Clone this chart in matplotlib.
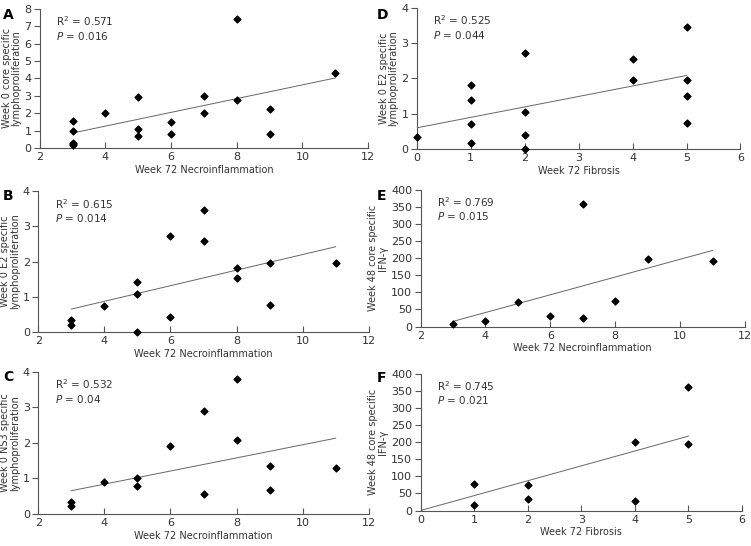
import numpy as np
import matplotlib
matplotlib.use("Agg")
import matplotlib.pyplot as plt

plt.rcParams['font.family'] = ['DejaVu Sans']

# x values (histology scores) and y values (immune responses) per panel
a_x = [3, 3, 3, 3, 3, 4, 5, 5, 5, 6, 6, 7, 7, 8, 8, 9, 9, 11]
a_y = [1.57, 0.98, 0.3, 0.22, 0.15, 1.99, 2.95, 1.07, 0.66, 1.47, 0.83, 2.99, 1.99, 7.41, 2.77, 2.22, 0.83, 4.29]
a_fit = [0.86, 4.02]

b_x = [3, 3, 4, 5, 5, 5, 6, 6, 7, 7, 8, 8, 9, 9, 11]
b_y = [0.35, 0.19, 0.74, 1.43, 1.08, 0.0, 2.73, 0.42, 3.46, 2.57, 1.82, 1.52, 1.95, 0.76, 1.95]
b_fit = [0.65, 2.42]

c_x = [3, 3, 4, 5, 5, 6, 7, 7, 8, 8, 9, 9, 11]
c_y = [0.33, 0.21, 0.89, 1.0, 0.79, 1.92, 2.91, 0.57, 3.80, 2.09, 1.34, 0.67, 1.29]
c_fit = [0.65, 2.13]

d_x = [0, 1, 1, 1, 1, 2, 2, 2, 2, 4, 4, 5, 5, 5, 5]
d_y = [0.33, 1.80, 1.40, 0.71, 0.16, 2.71, 1.05, 0.39, 0.0, 2.55, 1.94, 3.45, 1.94, 1.49, 0.74]
d_fit = [0.60, 2.08]

e_x = [3, 4, 5, 6, 7, 7, 8, 9, 11]
e_y = [6, 15, 71, 32, 359, 26, 74, 197, 192]
e_fit = [15, 223]

f_x = [1, 1, 2, 2, 4, 4, 5, 5]
f_y = [77, 17, 74, 35, 201, 28, 362, 195]
f_fit = [0, 218]

necro = "Week 72 Necroinflammation"
fib = "Week 72 Fibrosis"

panels = [
    # letter, x, y, fit, fit x range, xlim, xticks, ylim, yticks, xlabel, ylabel, r2, p, axes rect, letter pos
    ("A", a_x, a_y, a_fit, (3, 11), (2, 12), range(2, 13, 2), (0, 8), range(0, 9), necro,
     "Week 0 core specific\nlymphoproliferation", "0.571", "0.016", [0.053, 0.729, 0.437, 0.255], (0.004, 0.985)),
    ("B", b_x, b_y, b_fit, (3, 11), (2, 12), range(2, 13, 2), (0, 4), range(0, 5), necro,
     "Week 0 E2 specific\nlymphoproliferation", "0.615", "0.014", [0.051, 0.392, 0.440, 0.258], (0.004, 0.653)),
    ("C", c_x, c_y, c_fit, (3, 11), (2, 12), range(2, 13, 2), (0, 4), range(0, 5), necro,
     "Week 0 NS3 specific\nlymphoproliferation", "0.532", "0.04", [0.051, 0.059, 0.440, 0.260], (0.004, 0.323)),
    ("D", d_x, d_y, d_fit, (0, 5), (0, 6), range(0, 7), (0, 4), range(0, 5), fib,
     "Week 0 E2 specific\nlymphoproliferation", "0.525", "0.044", [0.555, 0.727, 0.431, 0.259], (0.501, 0.985)),
    ("E", e_x, e_y, e_fit, (3, 11), (2, 12), range(2, 13, 2), (0, 400), range(0, 401, 50), necro,
     "Week 48 core specific\nIFN-\u03b3", "0.769", "0.015", [0.560, 0.402, 0.432, 0.250], (0.502, 0.653)),
    ("F", f_x, f_y, f_fit, (0, 5), (0, 6), range(0, 7), (0, 400), range(0, 401, 50), fib,
     "Week 48 core specific\nIFN-\u03b3", "0.745", "0.021", [0.560, 0.065, 0.428, 0.250], (0.502, 0.320)),
]

fig = plt.figure(figsize=(7.51, 5.46), dpi=100)
grey = "#555555"
txt = "#333333"

for letter, x, y, fit, fx, xlim, xticks, ylim, yticks, xlab, ylab, r2, p, rect, lpos in panels:
    ax = fig.add_axes(rect)
    ax.scatter(x, y, marker='D', s=12, color='black', zorder=3, clip_on=False)
    ax.plot(fx, fit, color='#666666', lw=0.7)
    ax.set_xlim(*xlim)
    ax.set_ylim(*ylim)
    ax.set_xticks(list(xticks))
    ax.set_yticks(list(yticks))
    for s in ['top', 'right']:
        ax.spines[s].set_visible(False)
    for s in ['left', 'bottom']:
        ax.spines[s].set_color(grey)
        ax.spines[s].set_linewidth(0.8)
    ax.tick_params(axis='x', direction='in', length=4, color=grey, labelsize=8, labelcolor=txt, pad=3)
    ax.tick_params(axis='y', direction='out', length=4, color=grey, labelsize=8, labelcolor=txt, pad=2)
    ax.set_xlabel(xlab, fontsize=7, color=txt, labelpad=2)
    ax.set_ylabel(ylab, fontsize=7, color=txt, labelpad=2, linespacing=1.0)
    ax.text(0.05, 0.96, "R$^2$ = " + r2, transform=ax.transAxes, fontsize=7.5, color=txt, va='top')
    ax.text(0.05, 0.85, "$P$ = " + p, transform=ax.transAxes, fontsize=7.5, color=txt, va='top')
    fig.text(lpos[0], lpos[1], letter, fontsize=10, fontweight='bold', va='top', ha='left')

fig.savefig("out.png", dpi=100)
